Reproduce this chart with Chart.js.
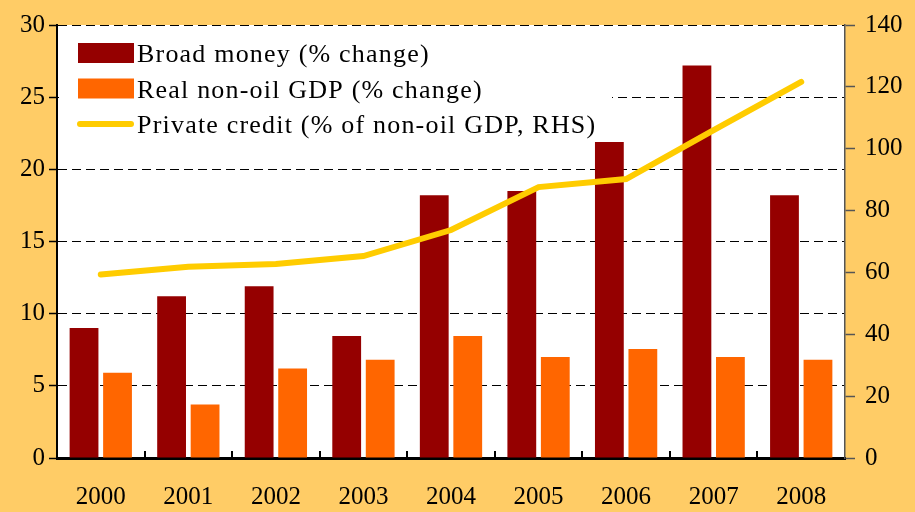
<!DOCTYPE html>
<html>
<head>
<meta charset="utf-8">
<script src="https://cdn.jsdelivr.net/npm/chart.js@4.4.1/dist/chart.umd.min.js"></script>
<style>
  html, body { margin: 0; padding: 0; background: #FFCC66; }
  canvas { display: block; }
</style>
</head>
<body>
<canvas id="chart" width="915" height="512"></canvas>
<script>
let years = ['2000', '2001', '2002', '2003', '2004', '2005', '2006', '2007', '2008'];
let broad_money = [9.0, 11.2, 11.9, 8.45, 18.2, 18.5, 21.9, 27.2, 18.2];
let real_gdp = [5.9, 3.7, 6.2, 6.8, 8.45, 7.0, 7.55, 7.0, 6.8];
let private_credit = [59.3, 61.8, 62.7, 65.3, 73.7, 87.6, 90.2, 106.0, 121.6];

let left_axis = { min: 0, max: 30, step: 5 };
let right_axis = { min: 0, max: 140, step: 20 };

let labels_legend = [
  'Broad money (% change)',
  'Real non-oil GDP (% change)',
  'Private credit (% of non-oil GDP, RHS)'
];

let FONT = '"Liberation Serif", "DejaVu Serif", serif';

// white plot area
let plotBackground = {
  id: 'plotBackground',
  beforeDraw: function(chart) {
    let a = chart.chartArea;
    let ctx = chart.ctx;
    ctx.save();
    ctx.fillStyle = '#ffffff';
    ctx.fillRect(a.left, a.top, a.right - a.left, a.bottom - a.top);
    ctx.restore();
  }
};

// legend inside the plot, on a white box hiding the grid
let boxLegend = {
  id: 'boxLegend',
  beforeDatasetsDraw: function(chart) {
    let a = chart.chartArea;
    let ctx = chart.ctx;
    ctx.save();
    ctx.fillStyle = '#ffffff';
    ctx.fillRect(a.left + 2, a.top + 1, 612 - a.left - 2, 118);

    let rows = [53, 88.5, 124];
    chart.data.datasets.forEach(function(ds, i) {
      let y = rows[i];
      if (ds.type == 'line') {
        ctx.strokeStyle = ds.borderColor;
        ctx.lineWidth = 6;
        ctx.lineCap = 'round';
        ctx.beginPath();
        ctx.moveTo(80, y);
        ctx.lineTo(131, y);
        ctx.stroke();
      } else {
        ctx.fillStyle = ds.backgroundColor;
        ctx.fillRect(78, y - 10, 56, 20);
      }
      ctx.fillStyle = '#000000';
      ctx.font = '26px ' + FONT;
      ctx.letterSpacing = '1.2px';
      ctx.textBaseline = 'alphabetic';
      ctx.textAlign = 'left';
      ctx.fillText(ds.label, 137, y + 9);
    });
    ctx.restore();
  }
};

// small inward tick marks on the category axis
let innerTicks = {
  id: 'innerTicks',
  afterDatasetsDraw: function(chart) {
    let xs = chart.scales.x;
    let ctx = chart.ctx;
    let n = years.length;
    let step = (xs.right - xs.left) / n;
    ctx.save();
    ctx.strokeStyle = '#000000';
    ctx.lineWidth = 2;
    for (let i = 1; i < n; i++) {
      let x = Math.round(xs.left + i * step);
      ctx.beginPath();
      ctx.moveTo(x, xs.top);
      ctx.lineTo(x, xs.top - 7);
      ctx.stroke();
    }
    ctx.restore();
  }
};

let ctx = document.getElementById('chart').getContext('2d');
let myChart = new Chart(ctx, {
  data: {
    labels: years,
    datasets: [
      {
        type: 'bar',
        label: labels_legend[0],
        data: broad_money,
        backgroundColor: '#950000',
        yAxisID: 'y',
        order: 2,
        categoryPercentage: 0.765,
        barPercentage: 0.86
      },
      {
        type: 'bar',
        label: labels_legend[1],
        data: real_gdp,
        backgroundColor: '#FF6600',
        yAxisID: 'y',
        order: 2,
        categoryPercentage: 0.765,
        barPercentage: 0.86
      },
      {
        type: 'line',
        label: labels_legend[2],
        data: private_credit,
        borderColor: '#FFCC00',
        borderWidth: 6,
        borderCapStyle: 'round',
        pointRadius: 0,
        tension: 0,
        yAxisID: 'y1',
        order: 1
      }
    ]
  },
  options: {
    responsive: false,
    animation: false,
    layout: { padding: { top: 25, left: 0, right: 0, bottom: 0 } },
    plugins: {
      legend: { display: false },
      tooltip: { enabled: false }
    },
    scales: {
      x: {
        offset: true,
        grid: { display: false, drawTicks: false },
        border: { display: true, color: '#000000', width: 3 },
        ticks: {
          color: '#000000',
          padding: 24,
          font: { family: FONT, size: 25 }
        },
        afterFit: function(scale) { scale.height = 54; }
      },
      y: {
        position: 'left',
        min: left_axis.min,
        max: left_axis.max,
        grid: {
          color: '#000000',
          lineWidth: 1,
          tickLength: 8,
          tickColor: '#000000',
          tickWidth: 1.5
        },
        border: { display: true, color: '#000000', width: 2, dash: [9, 5] },
        ticks: {
          stepSize: left_axis.step,
          color: '#000000',
          padding: 4,
          font: { family: FONT, size: 25 }
        },
        afterFit: function(scale) { scale.width = 57; }
      },
      y1: {
        position: 'right',
        min: right_axis.min,
        max: right_axis.max,
        grid: {
          drawOnChartArea: false,
          tickLength: 10,
          tickColor: '#555555',
          tickWidth: 1.5
        },
        border: { display: true, color: '#555555', width: 1.5 },
        ticks: {
          stepSize: right_axis.step,
          color: '#000000',
          padding: 10,
          font: { family: FONT, size: 25 }
        },
        afterFit: function(scale) { scale.width = 70; }
      }
    }
  },
  plugins: [plotBackground, boxLegend, innerTicks]
});
</script>
</body>
</html>
